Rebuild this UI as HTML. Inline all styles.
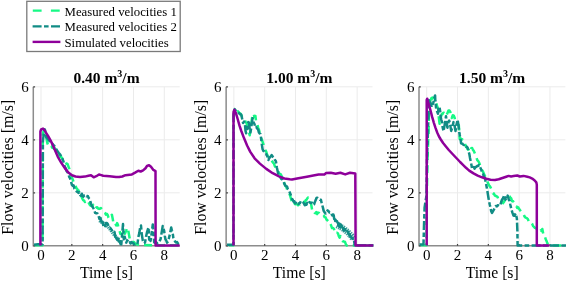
<!DOCTYPE html>
<html><head><meta charset="utf-8"><style>
html,body{margin:0;padding:0;background:#fff;}
svg{display:block;will-change:transform;}
text{font-family:"Liberation Serif",serif;fill:#000;}
</style></head><body>
<svg width="567" height="282" viewBox="0 0 567 282">

<line x1="41.00" y1="86.80" x2="41.00" y2="245.80" stroke="#ebebeb" stroke-width="1"/>
<line x1="71.82" y1="86.80" x2="71.82" y2="245.80" stroke="#ebebeb" stroke-width="1"/>
<line x1="102.64" y1="86.80" x2="102.64" y2="245.80" stroke="#ebebeb" stroke-width="1"/>
<line x1="133.46" y1="86.80" x2="133.46" y2="245.80" stroke="#ebebeb" stroke-width="1"/>
<line x1="164.28" y1="86.80" x2="164.28" y2="245.80" stroke="#ebebeb" stroke-width="1"/>
<line x1="33.30" y1="192.80" x2="179.69" y2="192.80" stroke="#ebebeb" stroke-width="1"/>
<line x1="33.30" y1="139.80" x2="179.69" y2="139.80" stroke="#ebebeb" stroke-width="1"/>
<line x1="33.30" y1="86.80" x2="179.69" y2="86.80" stroke="#ebebeb" stroke-width="1"/>
<path d="M33.30 86.80V245.80H179.69" fill="none" stroke="#8c8c8c" stroke-width="1.5"/>
<path d="M33.30 245.80h1.8M33.30 192.80h1.8M33.30 139.80h1.8M33.30 86.80h1.8M41.00 245.80v-1.8M71.82 245.80v-1.8M102.64 245.80v-1.8M133.46 245.80v-1.8M164.28 245.80v-1.8" stroke="#444" stroke-width="1.2"/>
<path d="M35.0 245.3L42.5 245.3L42.8 135.3L43.5 131.1L44.2 130.1L45.0 131.1L46.2 137.0L47.3 142.9L48.5 146.3L49.5 146.8L50.6 145.8L51.4 146.0L52.2 147.8L53.0 147.4L54.0 148.8L55.0 148.3L56.0 149.9L57.0 152.1L58.0 152.8L59.0 155.8L60.0 157.0L61.0 156.7L62.0 158.0L63.0 160.2L63.8 161.7L64.7 161.3L65.5 161.6L66.5 163.8L67.5 164.0L68.4 166.4L69.3 168.8L70.1 171.9L70.9 174.0L71.7 176.9L72.8 179.6L73.8 183.0L74.6 183.8L75.4 184.2L76.2 188.2L77.0 188.6L77.8 190.5L78.6 190.6L79.4 194.8L80.2 196.0L81.2 195.7L82.3 198.5L83.2 200.2L84.1 200.7L85.0 201.9L85.8 200.8L86.7 202.7L87.5 202.8L88.3 202.2L89.2 203.7L90.0 205.2L90.8 205.7L91.7 205.2L92.5 206.0L93.3 204.8L94.2 206.1L95.0 208.8L96.1 207.7L97.2 207.2L98.1 208.5L99.1 208.9L100.0 208.5L100.9 208.0L101.7 209.1L102.6 210.2L103.4 212.5L104.2 212.5L105.0 213.0L105.9 214.6L106.8 213.8L107.7 215.0L108.5 217.7L109.4 218.8L110.2 216.9L111.1 215.9L111.9 214.7L112.8 219.2L113.6 224.2L114.5 223.9L115.3 223.4L116.2 225.4L117.1 223.1L117.9 224.8L118.7 229.8L119.6 231.2L120.4 233.8L121.3 233.6L122.1 235.3L123.0 237.7L123.8 232.0L124.7 233.8L125.5 232.4L126.3 230.4L127.2 227.5L128.1 229.7L128.9 234.1L129.8 239.2L130.6 239.5L131.5 239.2L132.3 241.8L133.2 241.9L134.0 241.9L134.9 243.2L135.7 243.7L136.6 244.3L140.0 245.1L179.7 245.3" fill="none" stroke="#16f985" stroke-width="2.5" stroke-dasharray="8 5" stroke-linejoin="round"/>
<path d="M34.0 244.8L38.0 244.3L42.6 244.3L42.9 140.8L44.0 132.3L44.8 129.4L45.5 132.3L46.2 137.1L47.1 138.1L48.0 139.2L48.9 139.9L49.8 141.7L50.7 142.6L51.5 143.4L52.4 143.6L53.3 145.0L54.2 145.8L55.1 147.2L56.0 148.6L56.9 150.3L57.7 151.4L58.6 152.7L59.5 153.8L60.4 154.9L61.3 156.2L62.2 158.3L63.1 160.4L63.9 162.9L64.8 166.8L65.7 168.2L66.6 171.0L67.5 172.2L68.4 173.7L69.2 176.8L70.1 178.4L71.0 181.5L71.9 184.9L72.8 185.8L73.6 185.3L74.4 188.6L75.2 189.4L76.0 190.3L76.8 191.6L77.7 192.0L78.5 192.9L79.4 192.4L80.2 195.2L81.0 195.7L81.8 193.7L82.6 196.2L83.4 196.6L84.2 195.5L85.0 195.4L85.8 195.0L86.6 196.2L87.7 195.9L88.7 198.0L89.8 199.1L90.9 203.4L92.0 206.2L93.0 207.5L94.0 209.4L95.1 212.8L95.9 213.2L96.7 213.3L97.5 213.4L98.3 215.2L99.4 218.8L100.5 217.8L101.5 223.3L102.6 221.8L103.4 226.3L104.3 224.5L105.2 226.1L106.0 223.1L106.8 223.0L107.7 223.9L108.6 226.3L109.4 227.6L110.2 227.9L111.0 229.0L111.9 230.2L112.8 232.0L113.7 232.5L114.5 231.9L115.3 236.9L116.2 237.7L117.1 239.9L117.9 237.6L118.8 241.6L119.6 239.5L120.4 243.8L121.3 244.3L122.2 233.8L123.0 224.1L123.8 239.3L124.7 236.7L125.5 240.1L126.3 242.6L127.2 240.4L128.1 241.3L128.9 243.2L129.8 242.4L130.6 243.4L131.5 242.0L132.3 243.1L133.2 243.0L134.0 244.2L134.9 244.6L135.7 244.4L136.6 244.1L137.4 244.3L138.4 236.9L139.3 233.1L140.2 227.3L141.0 225.5L141.8 234.5L142.8 240.6L143.9 243.1L145.0 242.6L146.1 236.6L147.1 231.8L147.8 229.6L148.5 227.4L149.2 239.6L149.9 239.4L150.6 240.9L151.7 232.7L152.8 224.5L153.5 231.9L154.2 242.5L155.0 242.9L155.9 242.0L156.7 242.9L157.6 243.5L158.4 243.3L159.5 241.5L160.6 239.0L161.6 232.9L162.7 226.1L163.4 228.4L164.1 230.6L164.8 235.9L165.5 239.4L166.2 240.3L167.0 242.6L168.1 241.4L169.1 237.5L170.1 233.3L171.2 227.5L171.9 230.6L172.6 232.5L173.3 237.7L174.1 239.2L175.1 241.5L176.2 242.5L177.1 242.0L178.1 243.8L179.0 244.1" fill="none" stroke="#118c85" stroke-width="2.5" stroke-dasharray="9 2.4 4.6 2.4" stroke-linejoin="round"/>
<path d="M99.5 220.5L102.0 222.5L105.0 224.0L108.0 226.5L111.0 230.5L114.0 234.5L117.0 238.0L119.5 240.5" fill="none" stroke="#118c85" stroke-width="3.6" stroke-dasharray="1.3 0.9" stroke-linejoin="round" opacity="0.85"/>
<path d="M40.4 245.6L40.4 131.5L41.2 129.3L43.0 128.6L44.7 130.3L45.8 132.5L47.9 135.6L50.8 140.9L53.2 146.0L57.7 156.6L61.3 162.8L64.8 168.1L68.4 172.6L71.9 175.2L75.5 176.5L80.0 177.0L84.8 176.6L88.4 175.7L91.0 175.2L93.7 177.3L96.3 176.2L99.0 174.5L100.5 174.9L103.2 175.8L109.6 176.3L116.0 177.1L119.1 177.1L122.3 176.5L125.5 175.2L131.9 174.4L135.1 172.6L138.3 170.7L140.7 171.5L143.1 170.4L145.5 168.3L147.0 166.0L149.1 165.2L151.0 166.7L153.4 169.9L155.5 171.1L155.6 245.6L179.7 245.6" fill="none" stroke="#8e009a" stroke-width="2.5" stroke-linejoin="round"/>
<text x="28.70" y="251.20" font-size="15" text-anchor="end">0</text>
<text x="28.70" y="198.20" font-size="15" text-anchor="end">2</text>
<text x="28.70" y="145.20" font-size="15" text-anchor="end">4</text>
<text x="28.70" y="92.20" font-size="15" text-anchor="end">6</text>
<text x="41.00" y="260.20" font-size="15" text-anchor="middle">0</text>
<text x="71.82" y="260.20" font-size="15" text-anchor="middle">2</text>
<text x="102.64" y="260.20" font-size="15" text-anchor="middle">4</text>
<text x="133.46" y="260.20" font-size="15" text-anchor="middle">6</text>
<text x="164.28" y="260.20" font-size="15" text-anchor="middle">8</text>
<text x="106.49" y="277.9" font-size="15.7" text-anchor="middle">Time [s]</text>
<text transform="translate(12.70,167.30) rotate(-90)" font-size="15.9" text-anchor="middle">Flow velocities [m/s]</text>
<text x="106.49" y="82.6" font-size="15.5" font-weight="bold" text-anchor="middle">0.40 m<tspan dy="-6" font-size="10">3</tspan><tspan dy="6">/m</tspan></text>
<line x1="233.85" y1="86.80" x2="233.85" y2="245.80" stroke="#ebebeb" stroke-width="1"/>
<line x1="264.67" y1="86.80" x2="264.67" y2="245.80" stroke="#ebebeb" stroke-width="1"/>
<line x1="295.49" y1="86.80" x2="295.49" y2="245.80" stroke="#ebebeb" stroke-width="1"/>
<line x1="326.31" y1="86.80" x2="326.31" y2="245.80" stroke="#ebebeb" stroke-width="1"/>
<line x1="357.13" y1="86.80" x2="357.13" y2="245.80" stroke="#ebebeb" stroke-width="1"/>
<line x1="226.14" y1="192.80" x2="372.54" y2="192.80" stroke="#ebebeb" stroke-width="1"/>
<line x1="226.14" y1="139.80" x2="372.54" y2="139.80" stroke="#ebebeb" stroke-width="1"/>
<line x1="226.14" y1="86.80" x2="372.54" y2="86.80" stroke="#ebebeb" stroke-width="1"/>
<path d="M226.14 86.80V245.80H372.54" fill="none" stroke="#8c8c8c" stroke-width="1.5"/>
<path d="M226.14 245.80h1.8M226.14 192.80h1.8M226.14 139.80h1.8M226.14 86.80h1.8M233.85 245.80v-1.8M264.67 245.80v-1.8M295.49 245.80v-1.8M326.31 245.80v-1.8M357.13 245.80v-1.8" stroke="#444" stroke-width="1.2"/>
<path d="M229.0 245.3L233.4 245.3L233.5 118.0L234.6 110.9L235.5 109.6L236.6 111.2L237.7 111.2L238.6 112.2L239.5 113.2L240.5 113.6L241.5 115.5L242.5 117.5L243.5 119.6L244.5 119.7L245.5 121.6L246.6 123.3L247.6 126.8L248.7 131.4L249.7 135.3L250.8 127.0L251.9 119.3L252.6 114.5L253.6 113.7L254.4 117.0L255.4 116.0L256.1 121.4L256.8 122.5L257.5 124.9L258.2 127.9L258.9 129.6L259.7 132.5L260.4 135.0L261.1 138.3L261.9 139.7L262.6 142.0L263.5 144.4L264.3 147.4L265.2 149.7L266.2 151.5L267.3 155.0L268.4 157.1L269.5 159.0L270.4 159.9L271.2 160.3L272.1 161.3L273.0 162.6L274.0 163.6L274.9 166.5L275.9 167.2L276.9 169.6L277.9 170.3L279.0 173.0L279.9 174.4L280.8 174.2L281.7 176.2L282.6 179.2L283.5 179.8L284.6 184.1L285.6 186.1L286.4 187.0L287.2 189.8L288.0 191.7L288.8 192.2L289.9 195.0L291.0 198.7L292.1 202.6L293.1 204.9L294.1 203.8L295.1 204.2L296.0 204.1L297.0 204.1L298.0 205.3L299.0 203.9L300.0 204.4L301.0 203.9L301.9 202.9L302.9 203.6L303.9 201.9L304.8 202.5L305.6 200.4L306.4 199.9L307.2 198.5L308.0 197.5L309.1 199.4L310.1 199.6L311.1 204.0L312.2 210.5L313.0 209.9L313.8 211.1L314.6 212.8L315.4 213.2L316.3 212.2L317.1 214.1L318.0 212.6L319.0 213.0L319.9 214.3L320.9 213.8L321.8 214.3L322.8 214.5L323.7 215.2L324.6 217.1L325.6 217.4L326.6 219.8L327.6 220.6L328.6 221.9L329.5 224.5L330.2 223.9L331.0 225.2L332.0 228.1L333.0 227.9L334.0 229.0L335.0 232.7L336.0 233.6L337.0 232.7L338.0 233.5L338.8 236.1L339.6 237.6L340.4 236.1L341.4 240.0L342.5 241.2L343.3 241.3L344.1 241.7L344.9 241.7L345.8 244.2L346.7 245.4L373.4 245.4" fill="none" stroke="#16f985" stroke-width="2.5" stroke-dasharray="8 5" stroke-linejoin="round"/>
<path d="M227.0 244.8L232.0 244.8L233.5 244.6L233.6 115.0L234.8 109.1L235.9 110.9L237.0 112.3L238.1 112.4L239.1 113.2L240.1 114.3L241.2 114.4L242.2 119.0L243.1 123.1L244.1 121.5L245.0 124.9L245.5 130.8L246.2 133.3L246.9 130.4L247.6 124.8L248.3 122.1L249.0 122.5L249.7 129.0L250.4 132.4L251.1 128.8L251.9 122.4L252.6 118.2L253.3 122.0L254.4 123.8L255.4 127.5L256.1 127.0L257.2 128.4L258.2 129.7L258.9 132.5L259.7 133.5L260.4 134.0L261.1 138.1L261.7 143.6L262.6 149.2L263.4 151.0L264.1 151.2L265.2 153.9L266.3 154.2L267.4 156.6L268.4 160.0L269.2 158.1L270.0 157.1L270.8 156.4L271.6 155.1L272.6 156.5L273.7 157.4L274.8 159.8L275.9 161.3L276.9 167.8L278.2 173.8L279.0 174.5L279.8 175.9L280.6 177.9L281.4 179.1L282.2 179.4L283.0 180.9L283.8 182.5L284.6 184.1L285.4 185.8L286.2 186.3L287.0 186.4L287.8 189.0L288.9 190.4L289.9 192.7L290.9 195.3L292.0 198.9L292.8 199.9L293.6 201.7L294.4 201.4L295.2 203.4L296.0 202.9L296.8 204.2L297.6 203.2L298.4 204.0L299.2 203.3L300.0 203.1L300.8 201.1L301.6 201.1L302.4 201.4L303.2 202.4L304.0 203.6L304.8 205.3L305.6 204.1L306.4 204.8L307.2 202.9L308.0 204.1L308.8 202.8L309.6 202.1L310.4 203.0L311.2 203.0L312.2 202.8L313.3 204.9L314.1 204.3L314.9 201.9L315.7 200.1L316.5 198.0L317.3 197.7L318.2 198.5L319.0 198.9L319.9 199.8L320.9 199.8L321.8 203.6L322.8 207.1L323.7 210.9L324.6 212.4L325.6 213.5L326.6 211.2L327.6 210.4L328.6 211.2L329.5 212.5L330.4 212.2L331.4 214.1L332.4 215.4L333.3 214.5L333.8 215.8L334.2 219.1L334.7 217.3L335.2 221.0L335.6 219.9L336.1 221.6L336.6 222.5L337.0 221.2L337.5 222.4L338.0 223.1L338.5 225.8L339.0 226.0L339.5 223.7L340.0 227.2L340.5 225.4L341.0 224.9L341.5 226.0L342.0 228.6L342.5 227.3L343.0 228.0L343.5 229.8L344.0 230.5L344.5 230.1L345.0 229.1L345.5 230.4L346.0 232.3L346.5 232.3L347.0 231.9L347.5 231.3L348.0 231.9L348.5 234.0L349.0 233.8L349.5 231.9L350.0 235.4L350.5 236.8L351.0 236.8L351.5 237.7L352.0 238.3L352.5 237.8L353.0 240.1L353.5 239.5L353.9 239.6L354.3 242.2L354.7 245.1L373.4 245.3" fill="none" stroke="#118c85" stroke-width="2.5" stroke-dasharray="9 2.4 4.6 2.4" stroke-linejoin="round"/>
<path d="M337.0 225.0L340.0 226.5L344.0 229.0L348.0 232.5L351.0 235.5L353.0 238.5" fill="none" stroke="#118c85" stroke-width="6.5" stroke-dasharray="1.3 0.9" stroke-linejoin="round" opacity="0.85"/>
<path d="M233.5 245.6L233.5 112.0L234.4 109.8L236.0 113.3L237.8 119.5L239.5 125.7L241.3 131.0L244.0 138.1L247.1 145.5L250.3 151.9L254.6 158.3L259.9 163.6L266.3 168.9L272.7 173.2L279.0 176.4L284.4 178.5L289.7 179.3L292.0 179.5L298.4 178.2L306.9 176.7L313.3 175.6L318.6 174.6L324.4 174.4L326.1 173.1L330.8 172.8L335.6 173.7L340.4 172.8L345.2 174.4L350.0 172.8L355.3 173.5L355.6 245.6L373.4 245.6" fill="none" stroke="#8e009a" stroke-width="2.5" stroke-linejoin="round"/>
<text x="221.54" y="251.20" font-size="15" text-anchor="end">0</text>
<text x="221.54" y="198.20" font-size="15" text-anchor="end">2</text>
<text x="221.54" y="145.20" font-size="15" text-anchor="end">4</text>
<text x="221.54" y="92.20" font-size="15" text-anchor="end">6</text>
<text x="233.85" y="260.20" font-size="15" text-anchor="middle">0</text>
<text x="264.67" y="260.20" font-size="15" text-anchor="middle">2</text>
<text x="295.49" y="260.20" font-size="15" text-anchor="middle">4</text>
<text x="326.31" y="260.20" font-size="15" text-anchor="middle">6</text>
<text x="357.13" y="260.20" font-size="15" text-anchor="middle">8</text>
<text x="299.34" y="277.9" font-size="15.7" text-anchor="middle">Time [s]</text>
<text transform="translate(205.54,167.30) rotate(-90)" font-size="15.9" text-anchor="middle">Flow velocities [m/s]</text>
<text x="299.34" y="82.6" font-size="15.5" font-weight="bold" text-anchor="middle">1.00 m<tspan dy="-6" font-size="10">3</tspan><tspan dy="6">/m</tspan></text>
<line x1="426.70" y1="86.80" x2="426.70" y2="245.80" stroke="#ebebeb" stroke-width="1"/>
<line x1="457.52" y1="86.80" x2="457.52" y2="245.80" stroke="#ebebeb" stroke-width="1"/>
<line x1="488.34" y1="86.80" x2="488.34" y2="245.80" stroke="#ebebeb" stroke-width="1"/>
<line x1="519.16" y1="86.80" x2="519.16" y2="245.80" stroke="#ebebeb" stroke-width="1"/>
<line x1="549.98" y1="86.80" x2="549.98" y2="245.80" stroke="#ebebeb" stroke-width="1"/>
<line x1="419.00" y1="192.80" x2="565.39" y2="192.80" stroke="#ebebeb" stroke-width="1"/>
<line x1="419.00" y1="139.80" x2="565.39" y2="139.80" stroke="#ebebeb" stroke-width="1"/>
<line x1="419.00" y1="86.80" x2="565.39" y2="86.80" stroke="#ebebeb" stroke-width="1"/>
<path d="M419.00 86.80V245.80H565.39" fill="none" stroke="#8c8c8c" stroke-width="1.5"/>
<path d="M419.00 245.80h1.8M419.00 192.80h1.8M419.00 139.80h1.8M419.00 86.80h1.8M426.70 245.80v-1.8M457.52 245.80v-1.8M488.34 245.80v-1.8M519.16 245.80v-1.8M549.98 245.80v-1.8" stroke="#444" stroke-width="1.2"/>
<path d="M421.0 245.3L426.6 245.3L426.7 200.0L427.5 159.3L428.6 130.4L429.0 110.0L429.2 99.1L429.7 102.9L430.4 100.5L431.4 98.2L432.5 97.6L433.2 98.9L433.9 99.5L434.8 101.2L435.6 102.3L436.3 103.4L437.0 105.7L438.2 109.2L438.9 118.1L439.6 123.8L440.3 119.6L441.0 116.5L441.8 114.1L442.5 114.0L443.2 112.9L443.9 112.7L445.0 113.5L446.0 115.9L446.8 114.6L447.5 113.0L448.5 110.6L449.5 110.6L450.2 111.6L450.9 114.0L451.7 118.1L452.8 115.3L453.8 115.6L454.5 117.4L455.2 120.5L455.9 122.9L457.2 124.5L458.0 124.6L458.8 125.1L459.7 138.9L460.6 138.2L461.4 139.9L462.3 139.4L463.1 141.5L464.0 141.9L465.0 144.1L466.0 146.5L466.9 147.7L467.8 149.5L468.7 149.7L469.6 152.0L470.4 151.0L471.3 148.1L472.1 147.9L472.9 149.9L473.8 150.9L474.6 152.8L475.5 154.9L476.3 156.8L477.2 160.0L478.0 160.8L478.9 162.1L479.7 164.2L480.6 167.4L481.5 169.7L482.3 170.4L483.2 172.1L484.0 173.9L484.9 176.0L485.9 177.4L487.0 180.7L488.0 183.1L489.0 185.3L490.0 186.4L491.0 188.4L492.0 190.8L492.9 193.4L493.9 193.6L494.8 195.5L495.7 195.8L496.6 196.3L497.6 197.1L498.5 199.5L499.5 199.8L500.5 199.3L501.4 200.9L502.2 201.8L503.1 203.1L504.1 201.8L505.1 199.4L506.1 199.2L507.0 198.2L508.0 196.5L508.9 196.2L509.7 196.5L510.4 197.5L511.2 198.4L512.0 201.1L512.9 201.1L513.8 202.3L514.6 205.2L515.5 206.0L516.4 206.3L517.2 207.9L518.1 207.2L519.0 208.8L519.9 210.0L520.9 211.4L521.8 212.1L522.7 213.0L523.6 214.4L524.5 216.4L525.3 217.4L526.2 217.8L527.1 218.4L527.9 219.1L528.8 221.7L529.6 222.0L530.5 223.2L531.4 222.7L532.2 223.9L533.1 226.1L534.0 226.9L534.9 227.9L535.7 228.2L536.6 228.8L537.5 229.6L538.3 230.7L539.1 230.2L540.0 231.3L540.8 230.4L541.5 230.9L542.3 229.0L543.5 235.0L544.3 237.1L545.0 236.8L545.8 239.5L546.6 241.1L547.3 243.1L548.1 244.1L548.9 244.4L549.6 245.0L550.4 245.5L566.0 245.5" fill="none" stroke="#16f985" stroke-width="2.5" stroke-dasharray="8 5" stroke-linejoin="round"/>
<path d="M419.5 244.6L423.5 244.4L424.0 225.7L424.6 207.4L425.6 200.7L426.5 195.8L427.0 159.4L427.8 136.7L428.5 115.3L429.0 100.2L429.8 102.5L430.5 102.5L431.8 107.1L432.5 104.4L433.2 103.5L434.2 97.9L435.1 95.5L435.3 100.5L436.1 108.0L437.0 111.2L437.9 113.7L438.9 106.7L439.6 107.7L440.3 112.1L440.7 117.1L441.3 119.8L442.2 122.5L442.7 127.7L443.6 131.2L444.6 125.1L445.3 121.3L446.0 116.2L446.7 122.2L447.4 127.7L448.1 123.4L449.2 120.6L450.2 124.9L451.2 130.9L452.4 126.9L453.5 122.1L454.5 125.3L455.5 131.0L456.6 124.2L457.6 119.8L458.5 125.1L459.5 134.1L460.3 137.3L461.1 143.4L462.1 143.4L463.0 144.4L464.0 145.1L465.0 144.6L465.9 146.5L466.9 146.7L467.8 148.2L468.6 151.5L469.3 153.8L470.0 157.9L470.7 161.4L471.4 164.7L472.1 168.7L472.9 168.2L473.8 167.0L474.6 168.6L475.5 167.0L476.3 166.9L477.3 165.8L478.2 165.9L479.2 165.0L479.9 166.3L480.6 168.2L481.3 169.7L482.0 173.4L483.0 173.8L483.9 176.5L484.9 178.0L485.6 181.5L486.3 185.1L487.0 189.0L487.7 193.0L488.4 197.5L489.1 201.6L489.8 204.8L490.5 207.5L491.2 211.3L492.0 212.9L492.9 211.3L493.9 209.7L494.8 207.5L495.7 206.1L496.7 206.4L497.6 205.2L498.6 205.5L499.6 206.0L500.4 204.8L501.1 202.4L501.9 199.9L502.7 198.9L503.4 197.2L504.2 195.1L505.4 199.5L506.5 200.6L507.7 195.6L508.9 199.8L509.7 201.0L510.4 205.0L511.2 208.4L512.3 212.4L513.5 215.5L514.3 215.8L515.0 214.5L515.8 213.4L516.9 218.7L517.4 231.2L517.6 245.4L566.0 245.4" fill="none" stroke="#118c85" stroke-width="2.5" stroke-dasharray="9 2.4 4.6 2.4" stroke-linejoin="round"/>
<path d="M426.7 245.6L426.7 100.0L427.2 98.7L428.4 103.1L430.2 109.3L432.0 116.4L433.8 122.6L435.5 127.9L437.3 132.8L439.0 136.5L440.8 139.5L443.1 143.0L445.9 146.5L448.8 150.0L451.6 153.0L454.4 156.0L457.3 159.0L460.1 162.0L463.0 164.8L466.0 167.8L469.2 170.6L473.5 173.4L477.7 175.6L482.0 177.3L486.3 178.8L490.5 179.8L495.0 179.9L498.7 179.2L502.4 178.0L506.2 176.7L508.6 175.9L511.1 176.5L513.6 176.1L517.3 175.5L519.8 176.5L523.5 175.9L527.3 176.7L529.7 177.4L532.2 178.6L534.7 180.5L536.3 182.3L536.8 184.8L536.8 245.6L549.3 245.6" fill="none" stroke="#8e009a" stroke-width="2.5" stroke-linejoin="round"/>
<text x="414.39" y="251.20" font-size="15" text-anchor="end">0</text>
<text x="414.39" y="198.20" font-size="15" text-anchor="end">2</text>
<text x="414.39" y="145.20" font-size="15" text-anchor="end">4</text>
<text x="414.39" y="92.20" font-size="15" text-anchor="end">6</text>
<text x="426.70" y="260.20" font-size="15" text-anchor="middle">0</text>
<text x="457.52" y="260.20" font-size="15" text-anchor="middle">2</text>
<text x="488.34" y="260.20" font-size="15" text-anchor="middle">4</text>
<text x="519.16" y="260.20" font-size="15" text-anchor="middle">6</text>
<text x="549.98" y="260.20" font-size="15" text-anchor="middle">8</text>
<text x="492.19" y="277.9" font-size="15.7" text-anchor="middle">Time [s]</text>
<text transform="translate(398.39,167.30) rotate(-90)" font-size="15.9" text-anchor="middle">Flow velocities [m/s]</text>
<text x="492.19" y="82.6" font-size="15.5" font-weight="bold" text-anchor="middle">1.50 m<tspan dy="-6" font-size="10">3</tspan><tspan dy="6">/m</tspan></text>
<rect x="26.8" y="1.3" width="153.4" height="50.2" fill="#fff" stroke="#7a7a7a" stroke-width="1.3"/>
<path d="M32.8 10.7H60" stroke="#16f985" stroke-width="2.2" stroke-dasharray="8.8 9.3"/>
<path d="M32.6 26.3H60" stroke="#118c85" stroke-width="2.2" stroke-dasharray="9 2.4 4.6 2.4"/>
<path d="M32.6 41.9H60.4" stroke="#8e009a" stroke-width="2.4"/>
<text x="64.5" y="15.60" font-size="12.8">Measured velocities 1</text>
<text x="64.5" y="31.05" font-size="12.8">Measured velocities 2</text>
<text x="64.5" y="46.50" font-size="12.8">Simulated velocities</text>
</svg>
</body></html>
